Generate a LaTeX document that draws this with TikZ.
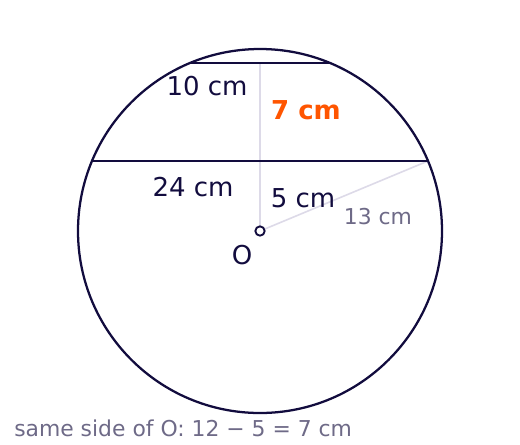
\documentclass[tikz,border=0pt]{standalone}
\usepackage{fontspec}
\setmainfont{DejaVu Sans}
\definecolor{navy}{HTML}{120C3E}
\definecolor{hot}{HTML}{FF5500}
\definecolor{muted}{HTML}{6E6A87}
\definecolor{faint}{HTML}{DDDAE8}
\begin{document}
\begin{tikzpicture}[x=0.75pt,y=-0.75pt,
  lbl/.style={text=navy,font=\fontsize{19.5}{23}\selectfont,inner sep=0pt},
  hilbl/.style={text=hot,font=\fontsize{19.5}{23}\selectfont\bfseries,inner sep=0pt},
  smalllbl/.style={text=muted,font=\fontsize{16.4}{19}\selectfont,inner sep=0pt},
  chord/.style={draw=navy,line width=1.7pt},
  guide/.style={draw=faint,line width=1.2pt}]
\useasboundingbox (0,0) rectangle (520,444);
\coordinate (O) at (260,231);
\coordinate (A) at (92,161);
\coordinate (B) at (428,161);
\coordinate (C) at (190,63);
\coordinate (D) at (330,63);
\coordinate (M) at (260,63);
\draw[guide] (O) -- (M);
\draw[guide] (O) -- (B);
\draw[draw=navy,line width=1.7pt] (O) circle[radius=182];
\draw[chord] (A) -- (B);
\draw[chord] (C) -- (D);
\node[circle,draw=navy,fill=white,line width=1.4pt,minimum size=7pt,inner sep=0pt] (Odot) at (O) {};
\node[lbl] (l10) at (207,86) {10 cm};
\node[hilbl] (l7) at (306,110) {7 cm};
\node[lbl] (l24) at (193,187) {24 cm};
\node[lbl] (l5) at (303,198) {5 cm};
\node[smalllbl] (l13) at (378,217) {13 cm};
\node[lbl] (lO) at (242,255) {O};
\node[smalllbl,anchor=west] (note) at (14,428) {same side of O: 12 − 5 = 7 cm};
\end{tikzpicture}
\end{document}
